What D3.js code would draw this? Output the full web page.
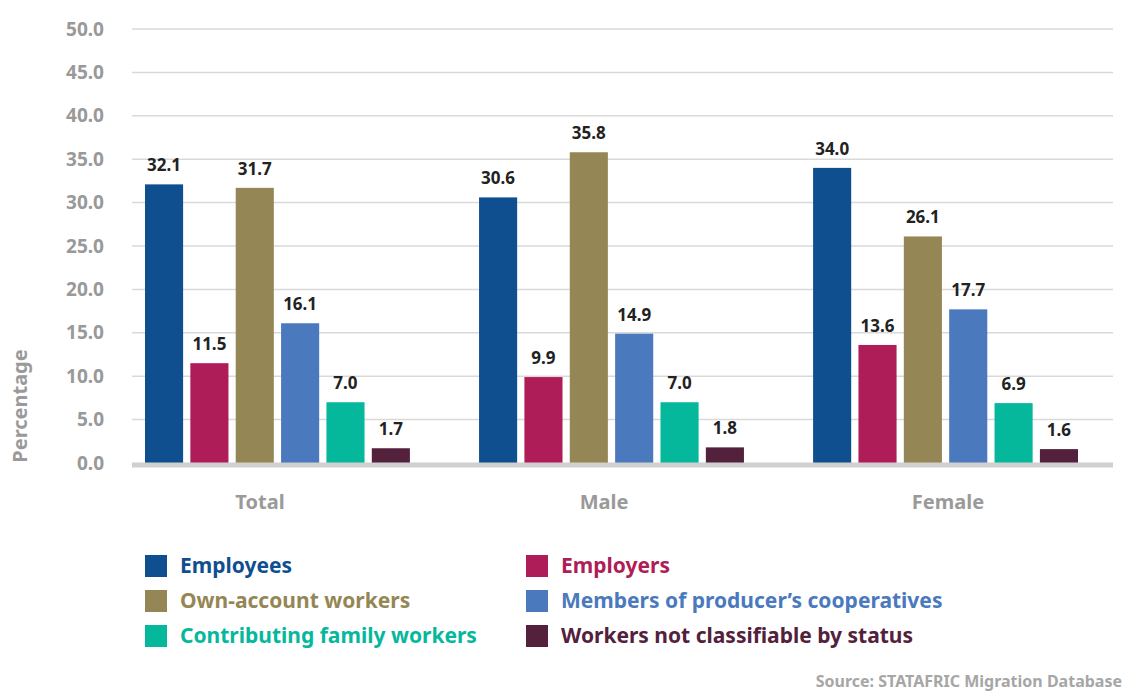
<!DOCTYPE html>
<html>
<head>
<meta charset="utf-8">
<script src="https://cdn.jsdelivr.net/npm/d3@7"></script>
<style>
  html, body { margin: 0; padding: 0; background: #fff; }
  svg { display: block; font-family: "Noto Sans", "Open Sans", sans-serif; }
</style>
</head>
<body>
<svg id="chart" width="1126" height="693"></svg>
<script>
// Status in employment by sex
const groups = ["Total", "Male", "Female"];
const series = [
  "Employees",
  "Employers",
  "Own-account workers",
  "Members of producer’s cooperatives",
  "Contributing family workers",
  "Workers not classifiable by status"
];
const colors = ["#0f4f8f", "#ae1d57", "#958655", "#4a79bd", "#05b89c", "#53213c"];
const totalValues  = [32.1, 11.5, 31.7, 16.1, 7.0, 1.7];
const maleValues   = [30.6, 9.9, 35.8, 14.9, 7.0, 1.8];
const femaleValues = [34.0, 13.6, 26.1, 17.7, 6.9, 1.6];
const yTicks = [0, 5, 10, 15, 20, 25, 30, 35, 40, 45, 50];
const yTitle = "Percentage";
const sourceText = "Source: STATAFRIC Migration Database";

const valuesByGroup = { Total: totalValues, Male: maleValues, Female: femaleValues };

const svg = d3.select("#chart");
const plotLeft = 132, plotRight = 1113;

const y = d3.scaleLinear().domain([0, 50]).range([463, 29]);
const x0 = d3.scaleBand().domain(groups).range([145, 1078]).paddingInner(0.207).paddingOuter(0);
const x1 = d3.scaleBand().domain(series).range([0, x0.bandwidth()]).paddingInner(0.16).paddingOuter(0);
const labelX = d3.scalePoint().domain(groups).range([260, 948]);

// Horizontal gridlines
svg.append("g")
  .selectAll("line")
  .data(yTicks.filter(d => d > 0))
  .join("line")
  .attr("x1", plotLeft).attr("x2", plotRight)
  .attr("y1", d => y(d)).attr("y2", d => y(d))
  .attr("stroke", "#d9d9d9").attr("stroke-width", 1.5);

// Y axis tick labels
const yAxis = d3.axisLeft(y).tickValues(yTicks).tickFormat(d3.format(".1f")).tickSize(0).tickPadding(0);
const gy = svg.append("g").attr("transform", "translate(104,0)").call(yAxis);
gy.select(".domain").remove();
gy.selectAll("text")
  .attr("fill", "#999999")
  .attr("font-size", 19)
  .attr("font-weight", 700)
  .attr("font-family", "'Noto Sans', sans-serif");

// Y axis title
svg.append("text")
  .attr("transform", "translate(27,406) rotate(-90)")
  .attr("text-anchor", "middle")
  .attr("fill", "#9a9a9a")
  .attr("font-size", 20)
  .attr("font-weight", 700)
  .text(yTitle);

// Bars
const gGroups = svg.append("g")
  .selectAll("g")
  .data(groups)
  .join("g")
  .attr("transform", g => `translate(${x0(g)},0)`);

gGroups.selectAll("rect")
  .data(g => valuesByGroup[g].map((v, i) => ({ key: series[i], value: v, color: colors[i] })))
  .join("rect")
  .attr("x", d => x1(d.key))
  .attr("width", x1.bandwidth())
  .attr("y", d => y(d.value))
  .attr("height", d => y(0) - y(d.value))
  .attr("fill", d => d.color);

gGroups.selectAll("text")
  .data(g => valuesByGroup[g].map((v, i) => ({ key: series[i], value: v })))
  .join("text")
  .attr("x", d => x1(d.key) + x1.bandwidth() / 2)
  .attr("y", d => y(d.value) - 13)
  .attr("text-anchor", "middle")
  .attr("fill", "#222222")
  .attr("font-size", 17)
  .attr("font-weight", 700)
  .text(d => d3.format(".1f")(d.value));

// Baseline
svg.append("rect")
  .attr("x", plotLeft).attr("width", plotRight - plotLeft)
  .attr("y", y(0) - 0.5).attr("height", 5)
  .attr("fill", "#d0d0d0");

// Category labels
svg.append("g")
  .selectAll("text")
  .data(groups)
  .join("text")
  .attr("x", g => labelX(g))
  .attr("y", 509)
  .attr("text-anchor", "middle")
  .attr("fill", "#9a9a9a")
  .attr("font-size", 20)
  .attr("font-weight", 700)
  .text(g => g);

// Legend: two columns, three rows
const legend = svg.append("g");
const colX = [145, 526];
const rowY = [555, 590, 625];
const items = legend.selectAll("g")
  .data(series.map((s, i) => ({ name: s, color: colors[i], col: i % 2, row: Math.floor(i / 2) })))
  .join("g")
  .attr("transform", d => `translate(${colX[d.col]},${rowY[d.row]})`);
items.append("rect")
  .attr("width", 22).attr("height", 22)
  .attr("fill", d => d.color);
items.append("text")
  .attr("x", 35).attr("y", 18)
  .attr("fill", d => d.color)
  .attr("font-size", 21)
  .attr("font-weight", 700)
  .text(d => d.name);

// Source note, right-aligned to the page edge
svg.append("text")
  .attr("x", 1122).attr("y", 687)
  .attr("text-anchor", "end")
  .attr("fill", "#a6a6a6")
  .attr("font-size", 16)
  .attr("font-weight", 700)
  .text(sourceText);
</script>
</body>
</html>
